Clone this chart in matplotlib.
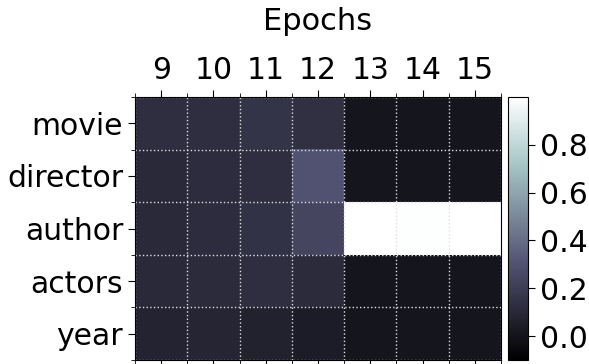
import matplotlib
matplotlib.use("Agg")
import matplotlib.pyplot as plt
import numpy as np

plt.rcParams.update({
    'font.size': 22,
    'xtick.labelsize': 21.5,
    'ytick.labelsize': 21.5,
    'axes.labelsize': 22,
})

# data
epochs = [9, 10, 11, 12, 13, 14, 15]
fields = ["movie", "director", "author", "actors", "year"]
movie = [0.13, 0.13, 0.16, 0.14, 0.01, 0.01, 0.01]
director = [0.11, 0.12, 0.13, 0.30, 0.01, 0.01, 0.01]
author = [0.11, 0.12, 0.15, 0.24, 1.00, 0.995, 1.00]
actors = [0.11, 0.115, 0.13, 0.115, 0.01, 0.01, 0.01]
year = [0.08, 0.085, 0.07, 0.045, 0.01, 0.01, 0.01]

values = np.array([movie, director, author, actors, year])

W, H = 589, 364
fig = plt.figure(figsize=(W / 100, H / 100), dpi=100)
ax = fig.add_axes([135 / W, 4 / H, 366 / W, 263 / H])
cax = fig.add_axes([508 / W, 4 / H, 20 / W, 263 / H])

im = ax.imshow(values, cmap='bone', vmin=-0.1, vmax=1.0, aspect='auto')

# epochs on top
ax.xaxis.tick_top()
ax.xaxis.set_label_position('top')
ax.set_xticks(np.arange(len(epochs)))
ax.set_xticklabels(epochs)
ax.set_yticks(np.arange(len(fields)))
ax.set_yticklabels(fields)
ax.set_xlabel("Epochs", labelpad=19)

# cell borders
ax.set_xticks(np.arange(-0.5, len(epochs), 1), minor=True)
ax.set_yticks(np.arange(-0.5, len(fields), 1), minor=True)
ax.grid(which='minor', color='#e0e0e0', linestyle=':', linewidth=1)
ax.tick_params(which='major', length=5)
ax.tick_params(which='minor', length=3)
ax.tick_params(axis='x', which='both', top=True, bottom=True)

cb = fig.colorbar(im, cax=cax)
cb.set_ticks([0.0, 0.2, 0.4, 0.6, 0.8])
cb.ax.tick_params(length=5)

fig.savefig("out.png", dpi=100)
